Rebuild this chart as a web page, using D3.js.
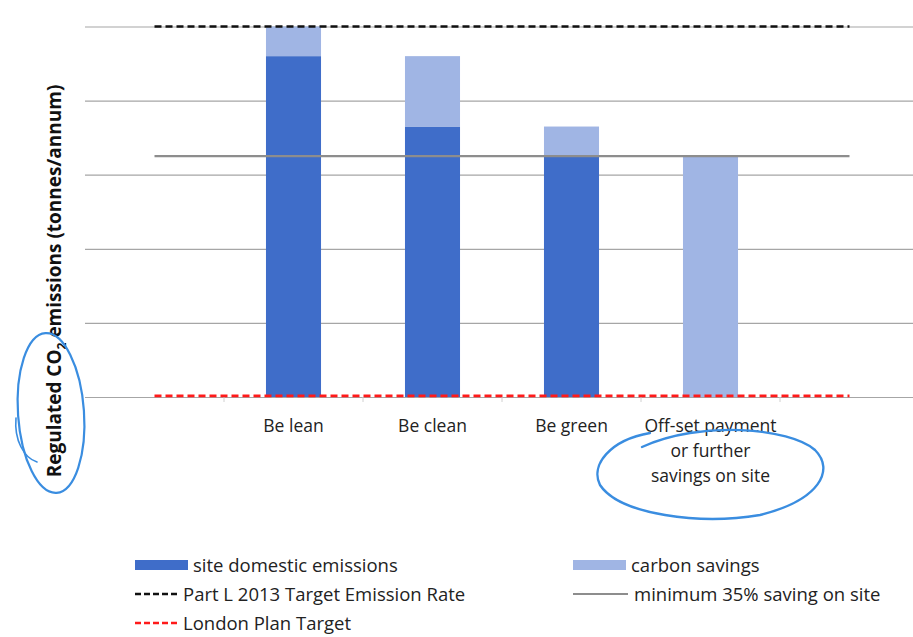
<!DOCTYPE html>
<html>
<head>
<meta charset="utf-8">
<script src="https://cdn.jsdelivr.net/npm/d3@7"></script>
<style>
  html, body { margin: 0; padding: 0; background: #fff; }
  svg { display: block; font-family: "Open Sans", "Liberation Sans", sans-serif; }
</style>
</head>
<body>
<svg id="chart" width="913" height="637"></svg>
<script>
// ---- data ----
const categories = ["", "Be lean", "Be clean", "Be green", "Off-set payment|or further|savings on site", ""];
const siteEmissions = [null, 92, 73, 65, 0, null];
const carbonSavings = [null, 8, 19, 8, 65, null];
const partLTarget = [100, 100, 100, 100, 100, 100];
const min35Saving = [65, 65, 65, 65, 65, 65];
const londonPlanTarget = [0.3, 0.3, 0.3, 0.3, 0.3, 0.3];
const yTicks = [0, 20, 40, 60, 80, 100];
const legendLabels = ["site domestic emissions", "carbon savings", "Part L 2013 Target Emission Rate", "minimum 35% saving on site", "London Plan Target"];

(function () {
const colors = { site: "#3f6dc9", savings: "#a0b5e4", partL: "#111111", min35: "#8d8d8d", london: "#ff1a1a", grid: "#a6a6a6" };

const svg = d3.select("#chart");
const pLeft = 85, pRight = 919, pTop = 26.5, pBottom = 397;

const x = d3.scaleBand().domain(d3.range(categories.length)).range([pLeft, pRight])
  .paddingInner(0.604).paddingOuter(0.302);
const y = d3.scaleLinear().domain([0, 100]).range([pBottom, pTop]);
const cx = i => x(i) + x.bandwidth() / 2;

// gridlines
const yAxis = d3.axisLeft(y).tickValues(yTicks).tickSize(-(913 - pLeft)).tickFormat("");
const gy = svg.append("g").attr("transform", `translate(${pLeft},0)`).call(yAxis);
gy.select(".domain").remove();
gy.selectAll(".tick line").attr("stroke", colors.grid).attr("stroke-width", 1.2);

// x axis ticks (category boundaries)
const boundaries = d3.range(1, categories.length).map(i => x(i) - x.step() * x.paddingInner() / 2);
svg.append("g").selectAll("line").data(boundaries).join("line")
  .attr("x1", d => d).attr("x2", d => d).attr("y1", pBottom).attr("y2", pBottom + 5)
  .attr("stroke", "#d0d0d0").attr("stroke-width", 1);

// bars
const idx = d3.range(categories.length).filter(i => siteEmissions[i] !== null);
svg.append("g").selectAll("rect").data(idx).join("rect")
  .attr("x", i => x(i)).attr("width", x.bandwidth())
  .attr("y", i => y(siteEmissions[i])).attr("height", i => y(0) - y(siteEmissions[i]))
  .attr("fill", colors.site);
svg.append("g").selectAll("rect").data(idx).join("rect")
  .attr("x", i => x(i)).attr("width", x.bandwidth())
  .attr("y", i => y(siteEmissions[i] + carbonSavings[i]))
  .attr("height", i => y(siteEmissions[i]) - y(siteEmissions[i] + carbonSavings[i]))
  .attr("fill", colors.savings);

// lines
const line = d3.line().x((d, i) => cx(i)).y(d => y(d));
svg.append("path").datum(min35Saving).attr("d", line).attr("fill", "none")
  .attr("stroke", colors.min35).attr("stroke-width", 2.2);
svg.append("path").datum(partLTarget).attr("d", line).attr("fill", "none")
  .attr("stroke", colors.partL).attr("stroke-width", 2.6).attr("stroke-dasharray", "7,4");
svg.append("path").datum(londonPlanTarget).attr("d", line).attr("fill", "none")
  .attr("stroke", colors.london).attr("stroke-width", 2.6).attr("stroke-dasharray", "7,4");

// x labels
const xl = svg.append("g").selectAll("text").data(d3.range(categories.length).filter(i => categories[i])).join("text")
  .attr("x", i => cx(i)).attr("y", 432).attr("text-anchor", "middle")
  .attr("font-size", 17.5).attr("fill", "#222");
xl.each(function(i) {
  const parts = categories[i].split("|");
  d3.select(this).selectAll("tspan").data(parts).join("tspan")
    .attr("x", cx(i)).attr("dy", (d, k) => k === 0 ? 0 : 25).text(d => d);
});

// y title
const yt = svg.append("text").attr("transform", "translate(61,281) rotate(-90)")
  .attr("text-anchor", "middle").attr("font-size", 19).attr("font-weight", "bold").attr("fill", "#111");
yt.append("tspan").text("Regulated CO");
yt.append("tspan").attr("font-size", 12).attr("dy", 5).text("2");
yt.append("tspan").attr("dy", -5).text(" emissions (tonnes/annum)");

// legend
const lg = svg.append("g").attr("font-size", 18.5).attr("fill", "#222");
const leg = [
  { t: legendLabels[0], x: 135, y: 565, type: "rect", c: colors.site },
  { t: legendLabels[1], x: 573, y: 565, type: "rect", c: colors.savings },
  { t: legendLabels[2], x: 135, y: 594, type: "dash", c: colors.partL },
  { t: legendLabels[3], x: 573, y: 594, type: "line", c: colors.min35 },
  { t: legendLabels[4], x: 135, y: 623, type: "dash", c: colors.london }
];
leg.forEach(d => {
  if (d.type === "rect") {
    lg.append("rect").attr("x", d.x).attr("y", d.y - 5).attr("width", 53).attr("height", 10).attr("fill", d.c);
  } else {
    lg.append("line").attr("x1", d.x).attr("x2", d.x + (d.type === "dash" ? 45 : 55)).attr("y1", d.y).attr("y2", d.y)
      .attr("stroke", d.c).attr("stroke-width", d.type === "dash" ? 2.4 : 2)
      .attr("stroke-dasharray", d.type === "dash" ? "6,3" : null);
  }
  lg.append("text").attr("x", d.x + (d.type === "rect" ? 58 : (d.type === "dash" ? 48 : 61))).attr("y", d.y + 6.5).text(d.t);
});

// hand-drawn annotation circles
const ann = svg.append("g").attr("fill", "none").attr("stroke", "#3a8de0").attr("stroke-linecap", "round");
ann.append("ellipse").attr("cx", 51).attr("cy", 413).attr("rx", 33).attr("ry", 80)
  .attr("transform", "rotate(-4,51,413)").attr("stroke-width", 2.2);
ann.append("path").attr("d", "M16,418 C14,440 24,458 37,462").attr("stroke-width", 1.6);
ann.append("path").attr("d", "M642,447 C700,420 790,428 815,450 C835,470 820,500 760,515 C700,525 620,515 600,485 C590,465 610,440 650,433")
  .attr("stroke-width", 2.4);
})();
</script>
</body>
</html>
